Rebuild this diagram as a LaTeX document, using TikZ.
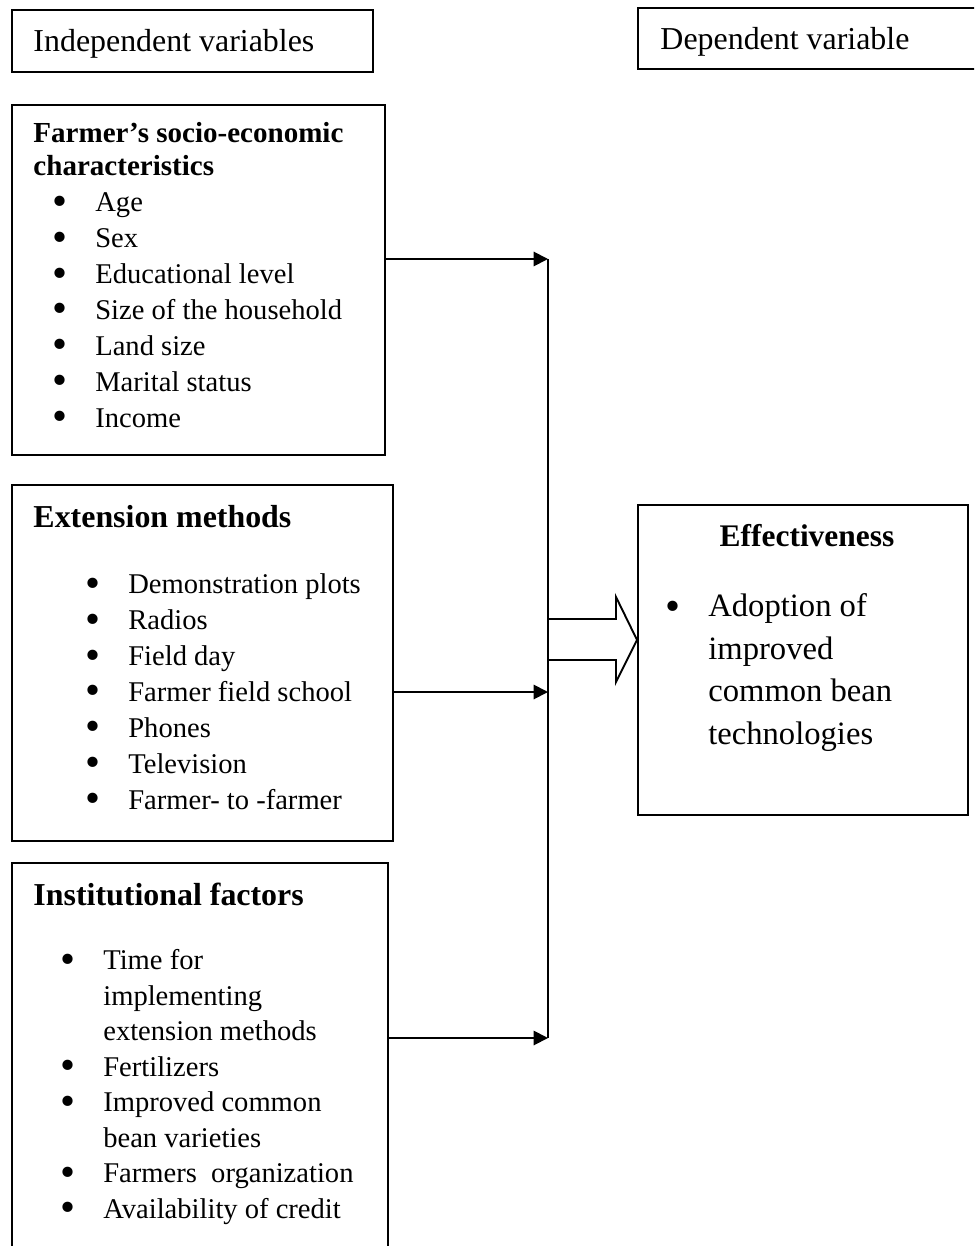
\documentclass[tikz,border=0pt]{standalone}
\usepackage{fontspec}
\setmainfont{Liberation Serif}
\usetikzlibrary{arrows.meta,fit,calc}

\newcommand{\bul}{\makebox[18pt][l]{\smash{\raisebox{-1.6pt}{\fontsize{18}{18}\selectfont\textbullet}}}}
\newcommand{\cnt}{\hspace*{18pt}}

\begin{document}
\begin{tikzpicture}[x=0.42pt, y=-0.42pt,
    box/.style={draw=black, line width=0.8pt, inner sep=0pt},
    lbl/.style={anchor=base west, inner sep=0pt, font=\fontsize{13.4}{16}\selectfont},
    head/.style={anchor=base west, align=left, inner sep=0pt, font=\fontsize{12.2}{13.9}\selectfont\bfseries},
    bighead/.style={anchor=base west, inner sep=0pt, font=\fontsize{13.4}{16}\selectfont\bfseries},
    items/.style={anchor=base west, align=left, inner sep=0pt, font=\fontsize{12}{15.1}\selectfont},
    link/.style={line width=0.8pt, -{Triangle[length=6pt,width=6pt]}},
    bus/.style={line width=0.8pt},
    hollow/.style={draw=black, line width=0.8pt, fill=white}
]

\useasboundingbox (0,0) rectangle (974,1246);
\clip (0,0) rectangle (974,1246);

% Titles
\node[box, fit={(12,10) (373,72)}] (indep) {};
\node[lbl] (indeptxt) at (33,52) {Independent variables};
\node[box, fit={(638,8) (990,69)}] (dep) {};
\node[lbl] (deptxt) at (660,50) {Dependent variable};

% Farmer's characteristics (lists are placed by their last baseline)
\node[box, fit={(12,105) (385,455)}] (farm) {};
\node[head] (farmhd) at (33,176) {Farmer’s socio-economic\\characteristics};
\node[items] (farmls) at (52,427) {\bul Age\\\bul Sex\\\bul Educational level\\\bul Size of the household\\\bul Land size\\\bul Marital status\\\bul Income};

% Extension methods
\node[box, fit={(12,485) (393,841)}] (ext) {};
\node[bighead] (exthd) at (33,527) {Extension methods};
\node[items] (extls) at (85,809) {\bul Demonstration plots\\\bul Radios\\\bul Field day\\\bul Farmer field school\\\bul Phones\\\bul Television\\\bul Farmer- to -farmer};

% Institutional factors
\node[box, fit={(12,863) (388,1270)}] (inst) {};
\node[bighead] (insthd) at (33,905) {Institutional factors};
\node[items, font=\fontsize{12}{14.9}\selectfont] (instls) at (60,1218) {\bul Time for\\\cnt implementing\\\cnt extension methods\\\bul Fertilizers\\\bul Improved common\\\cnt bean varieties\\\bul Farmers\ \ organization\\\bul Availability of credit};

% Effectiveness
\node[box, fit={(638,505) (968,815)}] (eff) {};
\node[bighead, anchor=base, font=\fontsize{13.2}{16}\selectfont\bfseries] (effhd) at (807,546) {Effectiveness};
\node[items, font=\fontsize{13.7}{17.8}\selectfont] (effls) at (665,744) {\bul Adoption of\\\cnt improved\\\cnt common bean\\\cnt technologies};

% Connectors
\coordinate (j1) at (548,259);
\coordinate (j2) at (548,692);
\coordinate (j3) at (548,1038);
\draw[bus] (j1) -- (j3);
\draw[link] (farm.east |- j1) -- (j1);
\draw[link] (ext.east |- j2) -- (j2);
\draw[link] (inst.east |- j3) -- (j3);

% Hollow arrow
\coordinate (h0) at (548,640);
\draw[hollow] (548,619) -- (616,619) -- (616,597) -- (eff.west |- h0) -- (616,682) -- (616,660) -- (548,660) -- cycle;

\end{tikzpicture}
\end{document}
